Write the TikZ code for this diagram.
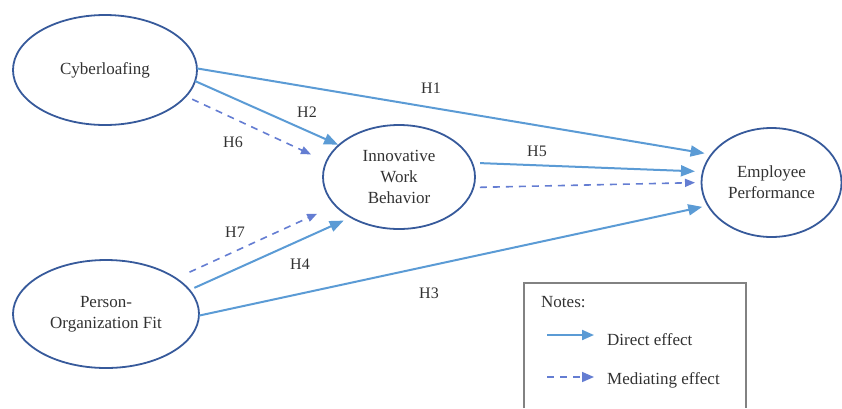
\documentclass[tikz,border=0pt]{standalone}
\usepackage{fontspec}
\setmainfont{Liberation Serif}
\usetikzlibrary{arrows.meta,shapes.geometric}
\definecolor{ellc}{RGB}{55,90,155}
\definecolor{dirc}{RGB}{91,155,213}
\definecolor{medc}{RGB}{100,125,210}
\definecolor{txtc}{RGB}{50,50,50}
\definecolor{boxc}{RGB}{130,130,130}
\tikzset{
  construct/.style={ellipse, draw=ellc, line width=1.8pt, inner sep=0pt, outer sep=0pt,
    text=txtc, font=\fontsize{17}{21}\selectfont, align=center},
  direct/.style={draw=dirc, line width=2pt, -{Triangle[length=14pt,width=11pt]}},
  mediate/.style={draw=medc, line width=1.6pt, dash pattern=on 7pt off 6pt,
    -{Triangle[length=10pt,width=8pt]}},
  hyp/.style={text=txtc, font=\fontsize{16}{19}\selectfont, inner sep=0pt},
  legtxt/.style={text=txtc, font=\fontsize{17}{20}\selectfont, inner sep=0pt, anchor=west},
}
\begin{document}
\begin{tikzpicture}[x=1pt,y=-1pt]
\useasboundingbox (0,0) rectangle (842,408);
% constructs
\node[construct, minimum width=184pt, minimum height=110pt] (cyb) at (105,70) {Cyberloafing};
\node[construct, minimum width=152pt, minimum height=104pt] (iwb) at (399,177) {Innovative\\Work\\Behavior};
\node[construct, minimum width=140pt, minimum height=109pt] (ep) at (771.5,182.5) {Employee\\Performance};
\node[construct, minimum width=186pt, minimum height=108pt] (pof) at (106,314) {Person-\\Organization Fit};
% paths
\draw[direct, shorten >=7pt] (cyb.1) -- (ep.155);
\draw[direct, shorten >=1pt] (cyb.-7) -- (iwb.152);
\draw[mediate, shorten <=7pt, shorten >=17pt] (cyb.-18) -- (iwb.168);
\draw[direct, shorten <=8pt, shorten >=8pt] (iwb.11) -- (ep.171);
\draw[mediate, shorten <=6.5pt, shorten >=6.5pt] (iwb.-8) -- (ep.180);
\draw[direct, shorten >=6pt] (pof.-1) -- (ep.200);
\draw[direct, shorten <=5.5pt, shorten >=8pt] (pof.16) -- (iwb.220);
\draw[mediate, shorten <=15pt, shorten >=20pt] (pof.27) -- (iwb.204);
% hypothesis labels
\node[hyp] (h1) at (431,88) {H1};
\node[hyp] (h2) at (307,112) {H2};
\node[hyp] (h6) at (233,142) {H6};
\node[hyp] (h5) at (537,151) {H5};
\node[hyp] (h7) at (235,232) {H7};
\node[hyp] (h4) at (300,264) {H4};
\node[hyp] (h3) at (429,293) {H3};
% legend
\draw[boxc, line width=1.3pt] (524,408) -- (524,283) -- (746,283) -- (746,408);
\node[legtxt] (notes) at (541,302) {Notes:};
\coordinate (d1) at (547,335);
\coordinate (d2) at (594,335);
\draw[direct, -{Triangle[length=12pt,width=10pt]}] (d1) -- (d2);
\node[legtxt] (dtxt) at (607,340) {Direct effect};
\coordinate (m1) at (547,377);
\coordinate (m2) at (594,377);
\draw[mediate, -{Triangle[length=12pt,width=10pt]}] (m1) -- (m2);
\node[legtxt] (mtxt) at (607,380) {Mediating effect};
\end{tikzpicture}
\end{document}
